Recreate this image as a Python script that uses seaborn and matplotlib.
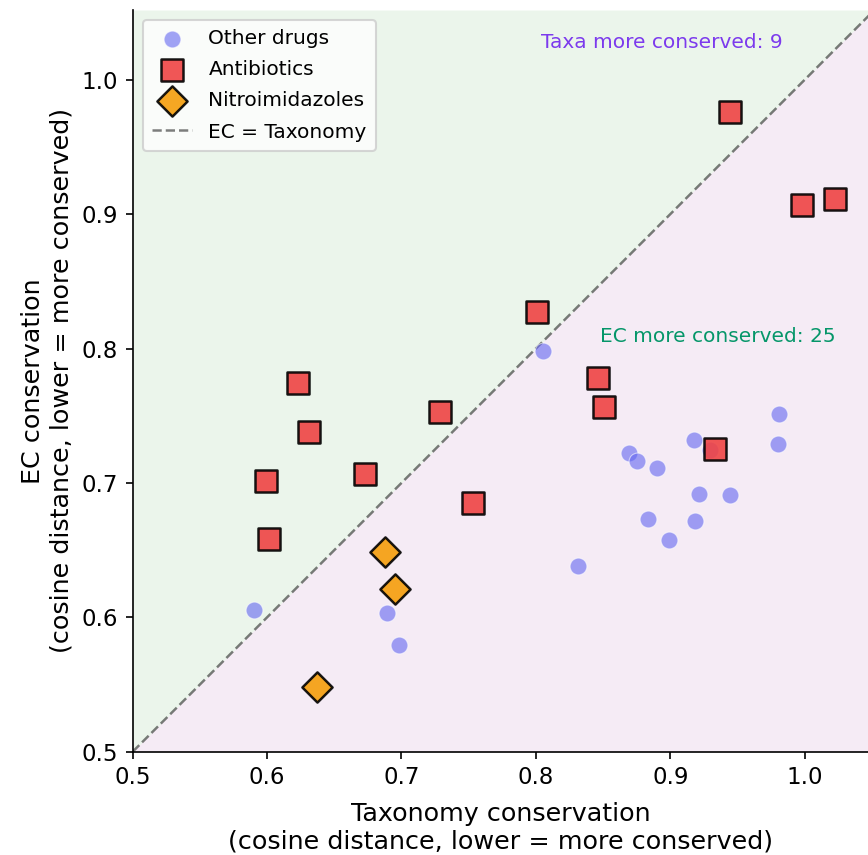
import numpy as np
import pandas as pd
import seaborn as sns
import matplotlib.pyplot as plt

# values
other_tax = [0.5905, 0.6890, 0.6984, 0.8053, 0.8311, 0.8693, 0.8752, 0.8901, 0.8834,
             0.8993, 0.9174, 0.9184, 0.9213, 0.9295, 0.9443, 0.9804, 0.9812]
other_ec = [0.6052, 0.6034, 0.5794, 0.7981, 0.6384, 0.7220, 0.7163, 0.7113, 0.6729,
            0.6577, 0.7319, 0.6714, 0.6917, 0.7245, 0.6908, 0.7287, 0.7511]

abx_tax = [0.5992, 0.6014, 0.6230, 0.6312, 0.6728, 0.7286, 0.7532, 0.8006,
           0.8462, 0.8507, 0.9333, 0.9442, 0.9978, 1.0223]
abx_ec = [0.7014, 0.6583, 0.7744, 0.7379, 0.7066, 0.7528, 0.6851, 0.8272,
          0.7781, 0.7565, 0.7252, 0.9762, 0.9066, 0.9115]

nitro_tax = [0.6369, 0.6877, 0.6952]
nitro_ec = [0.5481, 0.6488, 0.6213]

groups = ["Other drugs", "Antibiotics", "Nitroimidazoles"]

df = pd.DataFrame({
    "tax": other_tax + abx_tax + nitro_tax,
    "ec": other_ec + abx_ec + nitro_ec,
    "group": [groups[0]] * len(other_tax) + [groups[1]] * len(abx_tax) + [groups[2]] * len(nitro_tax),
})

n_taxa = int((df["ec"] > df["tax"]).sum())
n_ec = int((df["ec"] <= df["tax"]).sum())

sns.set_style("ticks", {"axes.edgecolor": "black", "text.color": "black",
                        "axes.labelcolor": "black", "xtick.color": "black",
                        "ytick.color": "black"})
plt.rcParams["font.family"] = ["DejaVu Sans"]

fig = plt.figure(figsize=(868 / 150, 855 / 150), dpi=150)
ax = fig.add_axes([132.7 / 868, 103.3 / 855, 735.3 / 868, 741.7 / 855])

lo, xhi, yhi = 0.5, 1.0471, 1.0519
diag = np.array([lo, yhi])
ax.fill_between(diag, diag, yhi, color="green", alpha=0.08, lw=0, zorder=0)
ax.fill_between(diag, lo, diag, color="purple", alpha=0.08, lw=0, zorder=0)

sns.scatterplot(data=df[df.group == groups[0]], x="tax", y="ec", ax=ax,
                color="#6366f1", alpha=0.6, s=65, edgecolor="white", linewidth=0.5,
                label=groups[0], zorder=3)
sns.scatterplot(data=df[df.group == groups[1]], x="tax", y="ec", ax=ax, marker="s",
                color="#ef4444", alpha=0.9, s=105, edgecolor="black", linewidth=1.2,
                label=groups[1], zorder=4)
sns.scatterplot(data=df[df.group == groups[2]], x="tax", y="ec", ax=ax, marker="D",
                color="#f59e0b", alpha=0.9, s=105, edgecolor="black", linewidth=1.2,
                label=groups[2], zorder=5)

ax.plot(diag, diag, ls="--", color="black", alpha=0.5, lw=1.2, label="EC = Taxonomy", zorder=2)

ax.text(0.8935, 1.0275, f"Taxa more conserved: {n_taxa}", color="#7c3aed",
        fontsize=9.7, ha="center", va="center")
ax.text(0.935, 0.8086, f"EC more conserved: {n_ec}", color="#059669",
        fontsize=9.7, ha="center", va="center")

ax.set_xlim(lo, xhi)
ax.set_ylim(lo, yhi)
ax.set_xticks([0.5, 0.6, 0.7, 0.8, 0.9, 1.0])
ax.set_yticks([0.5, 0.6, 0.7, 0.8, 0.9, 1.0])
ax.tick_params(labelsize=11, colors="black")
ax.set_xlabel("Taxonomy conservation\n(cosine distance, lower = more conserved)",
              fontsize=12.2, labelpad=6)
ax.set_ylabel("EC conservation\n(cosine distance, lower = more conserved)", fontsize=12.2)
sns.despine(ax=ax)

handles, labels = ax.get_legend_handles_labels()
order = [labels.index(l) for l in groups + ["EC = Taxonomy"]]
ax.legend([handles[i] for i in order], [labels[i] for i in order],
          loc="upper left", fontsize=9.7, frameon=True, labelspacing=0.6,
          borderpad=0.45)

fig.savefig("out.png", dpi=150)
